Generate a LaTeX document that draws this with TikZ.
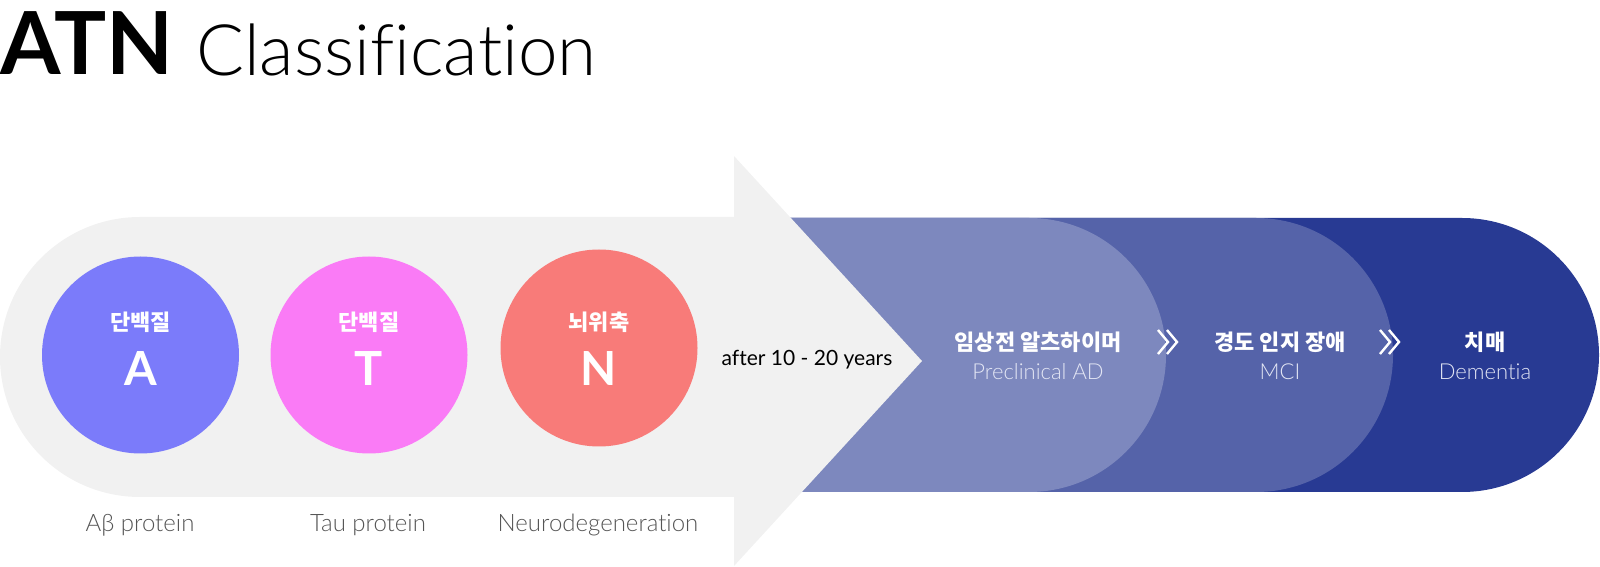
\documentclass[tikz,border=0pt]{standalone}
\usepackage{fontspec}
\setmainfont{Lato}[Ligatures=NoCommon]
\newfontfamily\lightfont{Lato Light}[Ligatures=NoCommon]
\newfontfamily\kofont{Noto Sans CJK KR}
\definecolor{AtnGrey}{HTML}{F1F1F1}
\definecolor{AtnA}{HTML}{7B7BFA}
\definecolor{AtnT}{HTML}{FA7BF6}
\definecolor{AtnN}{HTML}{F87B79}
\definecolor{StageLight}{HTML}{7D88BE}
\definecolor{StageMid}{HTML}{5563A9}
\definecolor{StageDark}{HTML}{283A93}
\definecolor{StageSub}{HTML}{E3E6F4}
\definecolor{LabelGrey}{HTML}{555555}

\begin{document}
\begin{tikzpicture}[x=1pt, y=1pt,
    marker/.style={circle, fill=#1, minimum size=197pt, inner sep=0pt},
    kotext/.style={white, inner sep=0pt, font=\kofont\bfseries\fontsize{22}{22}\selectfont},
    letter/.style={white, inner sep=0pt, font=\bfseries\fontsize{47}{47}\selectfont},
    sublabel/.style={LabelGrey, inner sep=0pt, font=\lightfont\fontsize{24}{24}\selectfont},
    stagesub/.style={StageSub, inner sep=0pt, font=\lightfont\fontsize{22}{22}\selectfont},
    chev/.style={white, line width=2.4pt}]
    \useasboundingbox (0,0) rectangle (1600,567);
    % title
    \node[anchor=base west, inner sep=0pt] (atn) at (0,492) {\fontsize{87}{87}\selectfont\bfseries ATN};
    \node[anchor=base west, inner sep=0pt] (classif) at (196,491) {\lightfont\fontsize{71}{71}\selectfont Classification};
    % stages, darkest first
    \fill[StageDark] (760,75) -- (1462,75) arc (-90:90:137) -- (760,349) -- cycle;
    \fill[StageMid] (760,75) -- (1256,75) arc (-90:90:137) -- (760,349) -- cycle;
    \fill[StageLight] (760,75) -- (1029,75) arc (-90:90:137) -- (760,349) -- cycle;
    % grey arrow
    \fill[AtnGrey] (734,350) -- (734,411) -- (922,206) -- (734,1) -- (734,70) -- (140,70) arc (270:90:140) -- cycle;
    % biomarkers
    \node[marker=AtnA] (amy) at (140.5,212) {};
    \node[marker=AtnT] (tau) at (369,212) {};
    \node[marker=AtnN] (neuro) at (599,219) {};
    \node[kotext] (amyKo) at (140.5,245) {단백질};
    \node[kotext] (tauKo) at (369,245) {단백질};
    \node[kotext] (neuroKo) at (599,245) {뇌위축};
    \node[letter] (amyL) at (140.5,198) {A};
    \node[letter] (tauL) at (369,198) {T};
    \node[letter] (neuroL) at (599,198) {N};
    \node[sublabel] (amyEn) at (140,42) {Aβ protein};
    \node[sublabel] (tauEn) at (368,42) {Tau protein};
    \node[sublabel] (neuroEn) at (598,42) {Neurodegeneration};
    \node[inner sep=0pt, font=\fontsize{21}{21}\selectfont] (years) at (807,207) {after 10 - 20 years};
    % stage labels
    \node[kotext] (pre) at (1038,225) {임상전 알츠하이머};
    \node[stagesub] (preEn) at (1038,195) {Preclinical AD};
    \node[kotext] (mci) at (1280,225) {경도 인지 장애};
    \node[stagesub] (mciEn) at (1280,195) {MCI};
    \node[kotext] (dem) at (1485,225) {치매};
    \node[stagesub] (demEn) at (1485,195) {Dementia};
    \foreach \cx in {1158,1380}{
        \draw[chev] (\cx,237) -- (\cx+10,225) -- (\cx,213);
        \draw[chev] (\cx+9,237) -- (\cx+19,225) -- (\cx+9,213);
    }
\end{tikzpicture}
\end{document}
